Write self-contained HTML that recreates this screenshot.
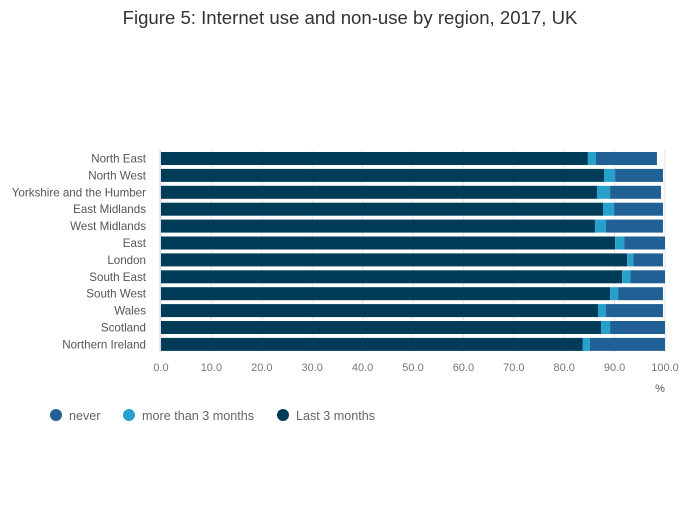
<!DOCTYPE html>
<html><head><meta charset="utf-8"><style>
body{margin:0;background:#fff;width:700px;height:502px;overflow:hidden}
svg text{font-family:"Liberation Sans",sans-serif}
</style></head><body>
<svg id="c" width="700" height="502">
<text x="350" y="24" text-anchor="middle" font-size="18.6" fill="#333">Figure 5: Internet use and non-use by region, 2017, UK</text>
<g id="grid"></g><g id="bars"></g><g id="labels"></g><g id="ticks"></g>
<text x="660" y="392" text-anchor="middle" font-size="11" fill="#555">%</text>
<g>
<g><circle cx="56" cy="415" r="6" fill="#206095"/><text x="69" y="420" font-size="12.6" fill="#666">never</text></g>
<g><circle cx="129" cy="415" r="6" fill="#27a0cc"/><text x="142" y="420" font-size="12.6" fill="#666">more than 3 months</text></g>
<g><circle cx="283" cy="415" r="6" fill="#003c57"/><text x="296" y="420" font-size="12.6" fill="#666">Last 3 months</text></g>
</g>
</svg>
<script>
const categories=["North East","North West","Yorkshire and the Humber","East Midlands","West Midlands","East","London","South East","South West","Wales","Scotland","Northern Ireland"];
const last3=[84.7,87.9,86.5,87.7,86.1,90.1,92.5,91.5,89.1,86.7,87.3,83.7];
const more3=[1.6,2.2,2.6,2.2,2.2,1.8,1.2,1.6,1.6,1.6,1.8,1.4];
const never=[12.1,9.5,10.1,9.7,11.3,8.1,5.9,6.9,8.9,11.3,10.9,14.9];
const xTicks=[0,10,20,30,40,50,60,70,80,90,100];
const NS="http://www.w3.org/2000/svg";
const x0=161,x1=665,yTop=150,step=16.9,bh=13;
const xs=v=>x0+(x1-x0)*v/100;
const ys=i=>yTop+step*i+2;
function mk(t,a,p){const e=document.createElementNS(NS,t);for(const k in a)e.setAttribute(k,a[k]);p.appendChild(e);return e;}
const grid=document.getElementById('grid'),bars=document.getElementById('bars'),labels=document.getElementById('labels'),ticks=document.getElementById('ticks');
xTicks.forEach(v=>{
  const l=mk('line',{x1:xs(v),x2:xs(v),y1:yTop,y2:352,stroke:'#e6e6e6','stroke-width':1},grid);
  
  
  const t=mk('text',{x:xs(v),y:371,'text-anchor':'middle','font-size':11,fill:'#777'},ticks);
  t.textContent=v.toFixed(1);
  
  
});
const ax=mk('line',{x1:160,x2:160,y1:yTop,y2:352,stroke:'#c8d3e6','stroke-width':1},grid);


const series=[[last3,'#003c57','last-3-months'],[more3,'#27a0cc','more-than-3-months'],[never,'#206095','never']];
categories.forEach((c,i)=>{
  let acc=0;
  series.forEach(([arr,col,nm])=>{
    const r=mk('rect',{x:xs(acc),y:ys(i),width:xs(acc+arr[i])-xs(acc),height:bh,fill:col},bars);
    
    
    acc+=arr[i];
  });
  const t=mk('text',{x:146,y:ys(i)+bh/2+4,'text-anchor':'end','font-size':11.6,fill:'#555'},labels);
  t.textContent=c;
  
  
});
</script>
</body></html>
